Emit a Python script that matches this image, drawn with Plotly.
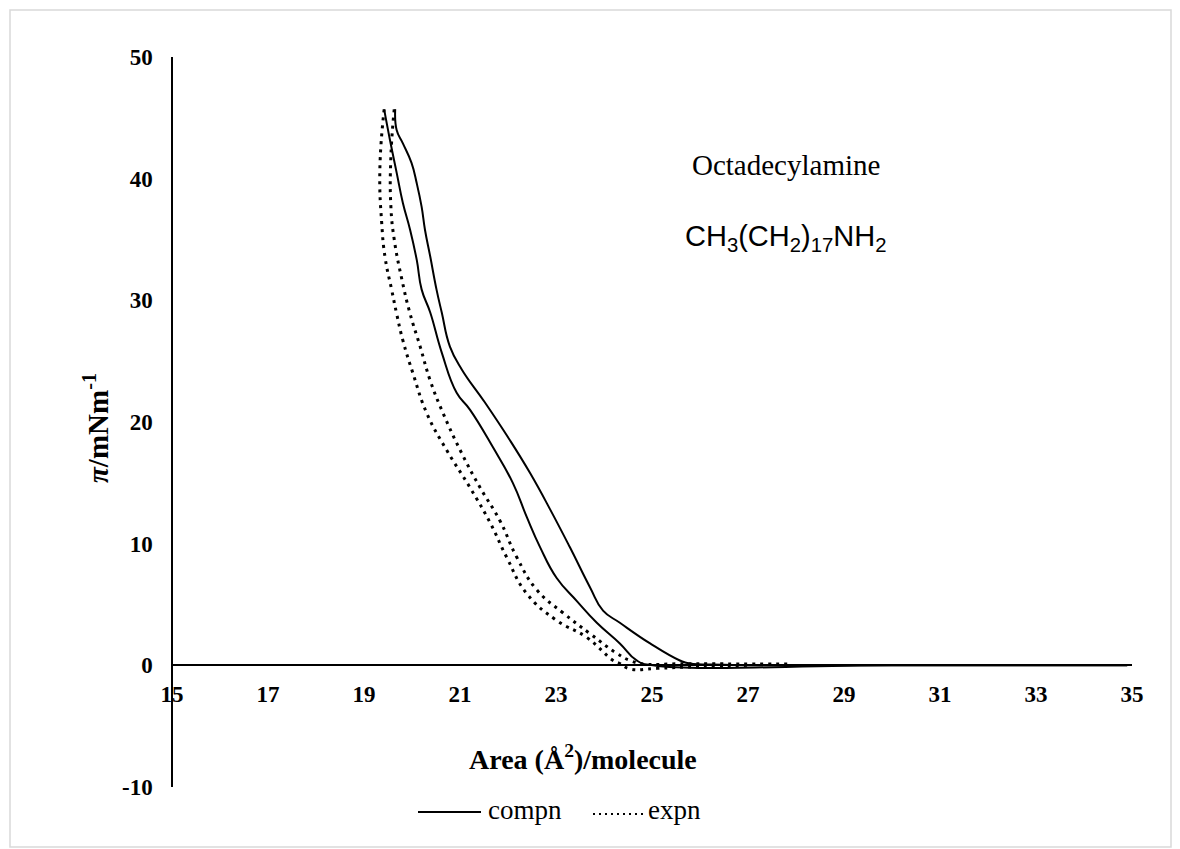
import plotly.graph_objects as go

# compn curve 1 (right solid)
compn1_x = [19.65, 19.68, 19.81, 19.99, 20.10, 20.20, 20.27, 20.38, 20.51, 20.62, 20.79, 21.04, 21.52,
            22.04, 22.46, 22.88, 23.29, 23.71, 23.98, 24.33, 24.96, 25.58, 25.79, 26.5, 30.0, 34.9]
compn1_y = [45.7, 44.0, 42.9, 41.3, 39.6, 37.7, 35.8, 33.6, 30.9, 29.0, 26.2, 24.3, 21.6,
            18.5, 15.8, 12.8, 9.7, 6.4, 4.5, 3.5, 1.8, 0.4, 0.15, 0.05, 0.0, 0.0]
# compn curve 2 (left solid)
compn2_x = [19.42, 19.54, 19.68, 19.81, 19.96, 20.10, 20.20, 20.38, 20.62, 20.93, 21.21, 21.69, 22.10,
            22.39, 22.67, 23.01, 23.43, 23.85, 24.33, 24.68, 25.02, 30.0, 34.9]
compn2_y = [45.7, 43.2, 40.5, 38.0, 35.8, 33.3, 30.9, 29.0, 25.7, 22.4, 21.0, 17.9, 15.0,
            12.2, 9.7, 7.2, 5.3, 3.5, 1.8, 0.4, 0.0, 0.0, 0.0]
# expn curve 1 (left dotted)
expn1_x = [19.42, 19.33, 19.37, 19.44, 19.58, 19.68, 19.81, 20.02, 20.31, 20.72, 21.21, 21.63, 21.97,
           22.39, 23.01, 23.64, 24.19, 24.33, 24.54, 25.10, 26.0, 27.0]
expn1_y = [45.7, 40.7, 36.3, 33.5, 30.8, 28.9, 26.7, 24.0, 20.7, 17.7, 14.6, 11.7, 8.9,
           5.9, 3.7, 2.3, 0.4, 0.15, -0.3, -0.25, -0.1, 0.0]
# expn curve 2 (right dotted)
expn2_x = [19.63, 19.56, 19.56, 19.63, 19.79, 19.96, 20.17, 20.38, 20.65, 21.04, 21.42, 21.83, 22.18,
           22.60, 23.15, 23.71, 24.26, 24.54, 24.85, 25.5, 26.5, 27.9]
expn2_y = [45.7, 41.8, 37.7, 35.0, 31.7, 28.9, 26.2, 23.4, 20.7, 17.4, 14.6, 11.9, 8.9,
           6.2, 4.3, 2.6, 1.0, 0.4, 0.1, 0.12, 0.12, 0.1]

x_ticks = [15, 17, 19, 21, 23, 25, 27, 29, 31, 33, 35]
y_ticks = [-10, 0, 10, 20, 30, 40, 50]
y_ticktext = ["-10", "0", "10", "20", "30", "40", "50"]
series_names = ["compn", "expn"]

SERIF = "Liberation Serif, Times New Roman, serif"
SANS = "Liberation Sans, Arial, sans-serif"
DOT = "3px,5px"

fig = go.Figure()
solid = dict(color="black", width=2)
dotted = dict(color="black", width=3, dash=DOT)
fig.add_trace(go.Scatter(x=compn1_x, y=compn1_y, mode="lines", name=series_names[0],
                         line=dict(**solid, shape="spline", smoothing=1.3), showlegend=False))
fig.add_trace(go.Scatter(x=compn2_x, y=compn2_y, mode="lines", name=series_names[0],
                         line=dict(**solid, shape="spline", smoothing=1.3), showlegend=False))
fig.add_trace(go.Scatter(x=expn1_x, y=expn1_y, mode="lines", name=series_names[1],
                         line=dict(**dotted, shape="spline", smoothing=1.3), showlegend=False))
fig.add_trace(go.Scatter(x=expn2_x, y=expn2_y, mode="lines", name=series_names[1],
                         line=dict(**dotted, shape="spline", smoothing=1.3), showlegend=False))

L, R, T, B = 172, 48, 57, 62
W, H = 1180, 849
pw = W - L - R
ph = H - T - B

def px(x):
    return (x - L) / pw

def py(y):
    return (H - B - y) / ph

fig.update_layout(
    width=W, height=H,
    margin=dict(l=L, r=R, t=T, b=B),
    paper_bgcolor="white", plot_bgcolor="white",
    font=dict(family=SERIF, color="black"),
    showlegend=False,
    xaxis=dict(range=[15, 35], tickvals=x_ticks, ticktext=[str(v) for v in x_ticks],
               anchor="free", position=1/6, showline=True, linecolor="black", linewidth=1.5,
               showgrid=False, zeroline=False, ticks="", ticklabelstandoff=8,
               tickfont=dict(family=SERIF, size=23, color="black", weight="bold")),
    yaxis=dict(range=[-10, 50], tickvals=y_ticks, ticktext=y_ticktext,
               anchor="free", position=0, showline=True, linecolor="black", linewidth=1.5,
               showgrid=False, zeroline=False, ticks="", ticklabelstandoff=14,
               tickfont=dict(family=SERIF, size=23, color="black", weight="bold")),
)

fig.add_annotation(text="<b>Area (Å<sup>2</sup>)/molecule</b>", xref="paper", yref="paper",
                   x=px(583), y=py(757), xanchor="center", yanchor="middle", showarrow=False,
                   font=dict(family=SERIF, size=28, color="black"))
fig.add_annotation(text="<b><i>π</i>/mNm<sup>-1</sup></b>", xref="paper", yref="paper",
                   x=px(96), y=py(428), xanchor="center", yanchor="middle", showarrow=False,
                   textangle=-90, font=dict(family=SERIF, size=29, color="black"))
fig.add_annotation(text="Octadecylamine", xref="paper", yref="paper",
                   x=px(786), y=py(165), xanchor="center", yanchor="middle", showarrow=False,
                   font=dict(family=SERIF, size=29, color="black"))
fig.add_annotation(text="CH<sub>3</sub>(CH<sub>2</sub>)<sub>17</sub>NH<sub>2</sub>", xref="paper", yref="paper",
                   x=px(785), y=py(238), xanchor="center", yanchor="middle", showarrow=False,
                   font=dict(family=SANS, size=29, color="black"))

# legend (drawn manually to match the sample lengths)
fig.add_shape(type="line", xref="paper", yref="paper", x0=px(418), x1=px(481), y0=py(812), y1=py(812),
              line=solid)
fig.add_annotation(text=series_names[0], xref="paper", yref="paper", x=px(486), y=py(810),
                   xanchor="left", yanchor="middle", showarrow=False,
                   font=dict(family=SERIF, size=27, color="black"))
fig.add_shape(type="line", xref="paper", yref="paper", x0=px(593), x1=px(643), y0=py(814), y1=py(814),
              line=dict(color="black", width=2, dash="2px,4px"))
fig.add_annotation(text=series_names[1], xref="paper", yref="paper", x=px(646), y=py(810),
                   xanchor="left", yanchor="middle", showarrow=False,
                   font=dict(family=SERIF, size=27, color="black"))

fig.add_shape(type="rect", xref="paper", yref="paper",
              x0=px(10), x1=px(1171), y0=py(847), y1=py(10),
              line=dict(color="#d9d9d9", width=1.5), fillcolor="rgba(0,0,0,0)", layer="below")

fig.write_html("out.html")
